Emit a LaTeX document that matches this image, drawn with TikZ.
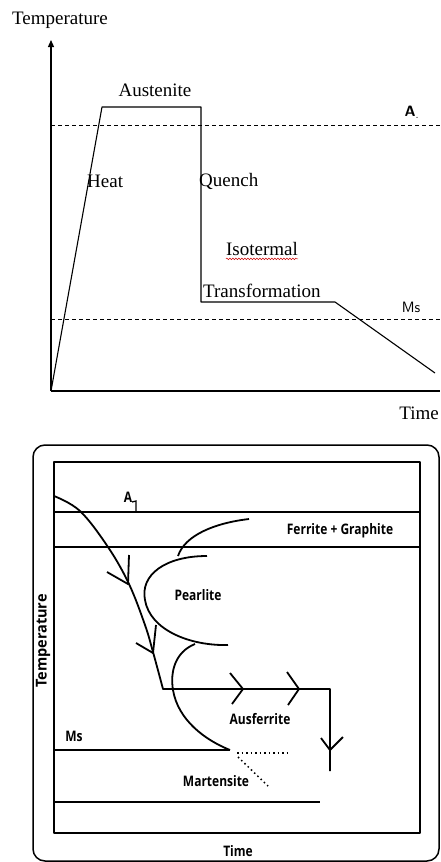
\documentclass[tikz,border=0pt]{standalone}
\usepackage{fontspec}
\usepackage{graphicx}
\setmainfont{Liberation Serif}
\newfontfamily\lblfont{Open Sans}
\newcommand{\lbl}[1]{\scalebox{1.2}[1.45]{\lblfont\bfseries\fontsize{10}{10}\selectfont #1}}
\usetikzlibrary{decorations.pathmorphing,arrows.meta}
\begin{document}
\begin{tikzpicture}[x=1pt,y=-1pt,
  axis/.style={line width=1.2pt},
  curve/.style={line width=1.1pt, line join=round},
  dashline/.style={line width=1pt, dash pattern=on 4pt off 3pt},
  serif/.style={font=\fontsize{19}{19}\selectfont, inner sep=0pt},
  heavy/.style={line width=1.8pt, line join=round},
  sans/.style={inner sep=0pt},
  dotline/.style={line width=1.5pt, dash pattern=on 1.5pt off 3pt}]
\useasboundingbox (0,0) rectangle (440,862);
% ---------- top chart ----------
\coordinate (o) at (51,391);
\coordinate (ytop) at (51,40);
\coordinate (xend) at (440,391);
\draw[axis,-{Triangle[length=7pt,width=6pt]}] (o) -- (ytop);
\draw[axis] (o) -- (xend);
\node[serif,anchor=center] (tlab) at (60,20) {Temperature};
\node[serif,anchor=east] (time) at (439,413) {Time};
\coordinate (a1l) at (51,125); \coordinate (a1r) at (440,125);
\coordinate (msl) at (51,319); \coordinate (msr) at (440,319);
\draw[dashline] (a1l) -- (a1r);
\draw[dashline] (msl) -- (msr);
\node[font=\sffamily\bfseries\fontsize{15}{15}\selectfont,inner sep=0pt] (a1top) at (412,112) {A$_{\scriptstyle .}$};
\node[font=\fontsize{15}{15}\selectfont\sffamily,inner sep=0pt] (mstop) at (411,307) {Ms};
\coordinate (p1) at (102,107);
\coordinate (p2) at (201,107);
\coordinate (p3) at (201,302);
\coordinate (p4) at (335,302);
\coordinate (p5) at (435,373);
\draw[curve] (o) -- (p1) -- (p2) -- (p3) -- (p4) -- (p5);
\node[serif] (aus) at (155,90) {Austenite};
\node[serif,anchor=west] (heat) at (87,181) {Heat};
\node[serif,anchor=west] (quench) at (199,181) {Quench};
\node[serif] (iso) at (262,249) {Isotermal};
\draw[red!80!black,line width=0.5pt,decorate,decoration={snake,amplitude=0.8pt,segment length=3pt}]
  ([yshift=-3pt]iso.south west) -- ([yshift=-3pt]iso.south east);
\node[serif,anchor=west] (trans) at (203,291) {Transformation};
% ---------- bottom chart ----------
\draw[line width=1.5pt, rounded corners=12pt] (33,445) rectangle (439,861);
\draw[heavy] (54,462) rectangle (420,833);
\coordinate (l1l) at (54,512); \coordinate (l1r) at (420,512);
\coordinate (l2l) at (54,547); \coordinate (l2r) at (420,547);
\draw[heavy] (l1l) -- (l1r);
\draw[heavy] (l2l) -- (l2r);
\node[sans] (a1b) at (128,497) {\lbl{A}};
\draw[line width=1.3pt] (132,502) -- (136,501) -- (136,512);
\node[sans] (fg) at (340,531) {\lbl{Ferrite + Graphite}};
% cooling curve
\coordinate (c0) at (54,496);
\coordinate (c6) at (163,689);
\coordinate (c7) at (330,689);
\coordinate (c8) at (330,771);
\draw[heavy] plot[smooth,tension=0.6] coordinates {(54,496) (80,511) (108,547) (129,584) (145,625) (153,652) (163,689)} -- (c7) -- (c8);
% arrow marks
\draw[heavy] (107,572) -- (128,584) -- (129,555);
\draw[heavy] (136,643) -- (153,653) -- (156,625);
\draw[heavy] (230,673) -- (243,689) -- (232,704);
\draw[heavy] (287,672) -- (299,689) -- (288,705);
\draw[heavy] (321,738) -- (330,750) -- (343,737);
% nose curves
\draw[heavy] (249,519) .. controls (215,523) and (185,535) .. (178,556);
\draw[heavy] (207,556) .. controls (165,556) and (140,575) .. (145,600)
   .. controls (150,630) and (190,646) .. (228,645);
\draw[heavy] (195,644) .. controls (175,652) and (170,672) .. (173,690)
   .. controls (178,720) and (205,740) .. (230,750);
% Ms line
\coordinate (msbl) at (54,750); \coordinate (msbr) at (230,750);
\draw[heavy] (msbl) -- (msbr);
\node[sans] (msb) at (74,736) {\lbl{Ms}};
\draw[dotline] (237,753) -- (291,753);
\draw[dotline] (238,757) -- (268,786);
\node[sans] (ausf) at (260,719) {\lbl{Ausferrite}};
\node[sans] (mart) at (216,781) {\lbl{Martensite}};
\coordinate (lbl) at (54,802); \coordinate (lbr) at (320,802);
\draw[heavy] (lbl) -- (lbr);
\node[sans] (pearl) at (198,595) {\lbl{Pearlite}};
\node[sans] (timeb) at (238,851) {\lbl{Time}};
\node[sans,rotate=90] (tempb) at (43,641) {\scalebox{1.45}[1.5]{\lblfont\bfseries\fontsize{10}{10}\selectfont Temperature}};
\end{tikzpicture}
\end{document}
